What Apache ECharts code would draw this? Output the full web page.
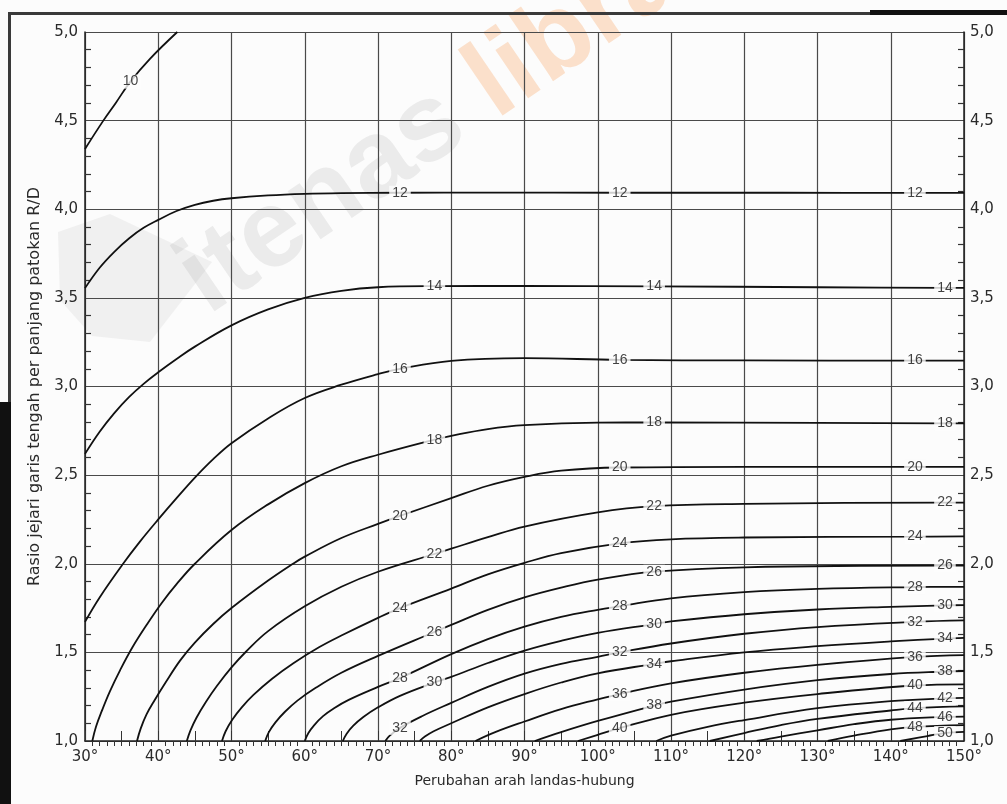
<!DOCTYPE html>
<html>
<head>
<meta charset="utf-8">
<script src="https://cdn.jsdelivr.net/npm/echarts@6/dist/echarts.min.js"></script>
<style>
  html, body { margin: 0; padding: 0; background: #fcfcfc; }
  #chart { width: 1007px; height: 804px; }
</style>
</head>
<body>
<div id="chart"></div>
<script>
// Rasio R/D terhadap perubahan arah landas-hubung, satu kurva per nilai parameter
const c10 = [[30,4.34],[32.5,4.5],[34.2,4.6],[36.2,4.72],[38.9,4.85],[42.6,5.0]];
const c12 = [[30,3.555],[32,3.67],[34,3.76],[36,3.835],[38,3.895],[40,3.94],[42.5,3.99],[45,4.025],[47.5,4.048],[50,4.062],[55,4.078],[60,4.087],[65,4.091],[73,4.093],[85,4.094],[103,4.093],[125,4.093],[143.3,4.092],[150,4.092]];
const c14 = [[30,2.62],[32,2.745],[34,2.85],[36,2.94],[38,3.015],[40,3.08],[42.5,3.155],[45,3.225],[50,3.345],[55,3.435],[60,3.5],[65,3.54],[70,3.56],[77.7,3.566],[90,3.567],[107.7,3.565],[130,3.56],[147.4,3.556],[150,3.556]];
const c16 = [[30,1.672],[32,1.81],[35.2,2.0],[37.5,2.125],[40,2.25],[42.5,2.37],[45.1,2.49],[47.5,2.59],[50,2.68],[55,2.82],[60,2.935],[65,3.01],[70,3.07],[73,3.1],[80,3.145],[90,3.16],[103,3.15],[120,3.147],[143.3,3.146],[150,3.146]];
const c18 = [[31,1.0],[31.5,1.08],[32.3,1.17],[33.4,1.28],[34.8,1.4],[36.5,1.53],[38.5,1.66],[40.5,1.78],[42.5,1.885],[45,2.0],[50,2.19],[55,2.335],[60,2.455],[65,2.55],[70,2.615],[77.7,2.7],[80,2.722],[85,2.76],[90,2.782],[100,2.796],[107.7,2.797],[130,2.795],[147.4,2.792],[150,2.792]];
const c20 = [[37.1,1.0],[37.6,1.07],[38.4,1.15],[39.5,1.23],[41,1.33],[43,1.455],[45,1.555],[47.5,1.66],[50,1.75],[55,1.905],[58.4,2.0],[60,2.04],[65,2.145],[70,2.225],[73,2.27],[80,2.37],[85,2.44],[90,2.49],[95,2.525],[103,2.543],[120,2.547],[143.3,2.547],[150,2.547]];
const c22 = [[43.9,1.0],[44.4,1.06],[45.2,1.13],[46.5,1.22],[48,1.31],[50,1.415],[52,1.505],[55,1.62],[60,1.76],[65,1.87],[70,1.955],[77.7,2.055],[80,2.085],[85,2.15],[90,2.21],[100,2.29],[107.7,2.325],[120,2.338],[147.4,2.345],[150,2.345]];
const c24 = [[48.7,1.0],[49.2,1.055],[50.1,1.12],[51.4,1.19],[53,1.26],[55.5,1.35],[58.5,1.44],[62,1.53],[65,1.595],[70,1.695],[73,1.75],[80,1.86],[85,1.94],[90,2.005],[95,2.06],[103,2.115],[110,2.138],[120,2.148],[143.3,2.153],[150,2.155]];
const c26 = [[54.6,1.0],[55.1,1.05],[56,1.105],[57.3,1.165],[59,1.228],[61.5,1.3],[65,1.385],[70,1.48],[77.7,1.615],[80,1.655],[85,1.74],[90,1.81],[95,1.865],[100,1.91],[107.7,1.955],[120,1.98],[147.4,1.99],[150,1.99]];
const c28 = [[60,1.0],[60.5,1.045],[61.3,1.09],[62.5,1.14],[64,1.185],[66,1.232],[70,1.305],[73,1.355],[80,1.49],[85,1.575],[90,1.645],[95,1.7],[100,1.74],[103,1.76],[110,1.805],[120,1.84],[130,1.858],[143.3,1.868],[150,1.87]];
const c30 = [[65.2,1.0],[65.7,1.04],[66.6,1.085],[68,1.135],[70,1.19],[73,1.255],[77.7,1.33],[80,1.362],[85,1.44],[90,1.51],[95,1.565],[100,1.61],[107.7,1.66],[110,1.675],[120,1.715],[130,1.742],[140,1.757],[147.4,1.765],[150,1.767]];
const c32 = [[71,1.0],[71.6,1.03],[73,1.074],[76,1.14],[80,1.215],[85,1.305],[90,1.38],[95,1.435],[100,1.475],[103,1.5],[110,1.55],[120,1.605],[130,1.643],[143.3,1.672],[150,1.68]];
const c34 = [[75.7,1.0],[76.4,1.025],[77.6,1.055],[80,1.1],[85,1.19],[90,1.265],[95,1.33],[100,1.382],[107.7,1.435],[110,1.45],[120,1.5],[130,1.535],[140,1.562],[147.4,1.578],[150,1.582]];
const c36 = [[83.3,1.0],[86,1.05],[90,1.11],[95,1.18],[100,1.235],[103,1.265],[110,1.325],[120,1.385],[130,1.43],[143.3,1.475],[150,1.485]];
const c38 = [[91.4,1.0],[95,1.05],[100,1.113],[107.7,1.2],[110,1.222],[120,1.29],[130,1.343],[140,1.378],[147.4,1.392],[150,1.395]];
const c40 = [[97.3,1.0],[100,1.035],[103,1.072],[110,1.148],[120,1.216],[130,1.265],[143.3,1.313],[150,1.32]];
const c42 = [[108,1.0],[110,1.03],[115,1.08],[120,1.118],[130,1.185],[140,1.225],[147.4,1.24],[150,1.243]];
const c44 = [[115.3,1.0],[120,1.045],[125,1.09],[130,1.125],[140,1.172],[143.3,1.185],[150,1.195]];
const c46 = [[121.7,1.0],[125,1.025],[130,1.06],[135,1.095],[140,1.12],[147.4,1.136],[150,1.138]];
const c48 = [[131.4,1.0],[135,1.03],[140,1.066],[143.3,1.08],[150,1.09]];
const c50 = [[141.3,1.0],[145,1.028],[147.4,1.045],[150,1.052]];

const curveNames = ['10','12','14','16','18','20','22','24','26','28','30','32','34','36','38','40','42','44','46','48','50'];
const curveData  = [c10,c12,c14,c16,c18,c20,c22,c24,c26,c28,c30,c32,c34,c36,c38,c40,c42,c44,c46,c48,c50];

// angles (x) at which each curve carries its number
const labelAt = {
  '10': [36.2],
  '12': [73, 103, 143.3], '14': [77.7, 107.7, 147.4],
  '16': [73, 103, 143.3], '18': [77.7, 107.7, 147.4],
  '20': [73, 103, 143.3], '22': [77.7, 107.7, 147.4],
  '24': [73, 103, 143.3], '26': [77.7, 107.7, 147.4],
  '28': [73, 103, 143.3], '30': [77.7, 107.7, 147.4],
  '32': [73, 103, 143.3], '34': [107.7, 147.4],
  '36': [103, 143.3], '38': [107.7, 147.4],
  '40': [103, 143.3], '42': [147.4],
  '44': [143.3], '46': [147.4],
  '48': [143.3], '50': [147.4]
};

const xTicks = [30,40,50,60,70,80,90,100,110,120,130,140,150];
const xTickLabels = ['30°','40°','50°','60°','70°','80°','90°','100°','110°','120°','130°','140°','150°'];
const yTicks = [1,1.5,2,2.5,3,3.5,4,4.5,5];
const yTickLabels = ['1,0','1,5','2,0','2,5','3,0','3,5','4,0','4,5','5,0'];

const xTitle = 'Perubahan arah landas-hubung';
const yTitle = 'Rasio jejari garis tengah per panjang patokan R/D';

const BG = '#fcfcfc';
const GRID_COLOR = '#4a4a4a';
const TEXT_COLOR = '#2a2a2a';
const AXIS_FONT = 'DejaVu Sans, sans-serif';
const MARK_FONT = 'bold 110px "Liberation Sans", Arial, sans-serif';

function tickText(ticks, labels, v) {
  for (let i = 0; i < ticks.length; i++) {
    if (Math.abs(ticks[i] - v) < 1e-6) return labels[i];
  }
  return '';
}

const lineSeries = curveData.map((d, i) => ({
  type: 'line',
  name: curveNames[i],
  data: d,
  smooth: 0.4,
  symbol: 'none',
  clip: true,
  silent: true,
  z: 3,
  lineStyle: { color: '#111', width: 1.8 }
}));

const labelPoints = [];
curveData.forEach((d, i) => {
  const name = curveNames[i];
  (labelAt[name] || []).forEach(ax => {
    const p = d.find(q => Math.abs(q[0] - ax) < 1e-9);
    if (p) labelPoints.push({ value: p, name: name });
  });
});

const labelSeries = {
  type: 'scatter',
  data: labelPoints,
  symbol: 'circle',
  symbolSize: 1,
  silent: true,
  z: 6,
  itemStyle: { color: 'rgba(0,0,0,0)' },
  label: {
    show: true,
    position: 'inside',
    formatter: p => p.name,
    fontFamily: 'Liberation Sans, Arial, sans-serif',
    fontSize: 14,
    color: '#111',
    backgroundColor: BG,
    padding: [0, 3]
  }
};

const chart = echarts.init(document.getElementById('chart'), null, { renderer: 'canvas' });

chart.setOption({
  backgroundColor: BG,
  animation: false,
  grid: { left: 85, right: 43, top: 32, bottom: 63, containLabel: false },
  xAxis: [
    {
      type: 'value', min: 30, max: 150, interval: 10,
      name: xTitle, nameLocation: 'middle', nameGap: 33,
      nameTextStyle: { fontFamily: AXIS_FONT, fontSize: 14, color: TEXT_COLOR },
      axisLine: { show: true, lineStyle: { color: '#222', width: 1.5 } },
      axisTick: { show: false },
      minorTick: { show: true, splitNumber: 10, length: 5, lineStyle: { color: '#333', width: 1 } },
      splitLine: { show: true, lineStyle: { color: GRID_COLOR, width: 1.2 } },
      axisLabel: {
        margin: 9, fontFamily: AXIS_FONT, fontSize: 15, color: TEXT_COLOR,
        formatter: v => tickText(xTicks, xTickLabels, v)
      }
    },
    {
      type: 'value', min: 30, max: 150, interval: 5, position: 'bottom',
      axisLine: { show: false },
      axisTick: { show: true, inside: true, length: 10, lineStyle: { color: '#333', width: 1 } },
      axisLabel: { show: false },
      splitLine: { show: false }
    }
  ],
  yAxis: [
    {
      type: 'value', min: 1, max: 5, interval: 0.5, position: 'left',
      name: yTitle, nameLocation: 'middle', nameGap: 36,
      nameTextStyle: { fontFamily: AXIS_FONT, fontSize: 16, color: TEXT_COLOR },
      axisLine: { show: true, lineStyle: { color: '#222', width: 1.5 } },
      axisTick: { show: false, inside: true },
      minorTick: { show: true, splitNumber: 5, length: 6, lineStyle: { color: '#333', width: 1.2 } },
      splitLine: { show: true, lineStyle: { color: GRID_COLOR, width: 1.2 } },
      axisLabel: {
        margin: 7, fontFamily: AXIS_FONT, fontSize: 15, color: TEXT_COLOR,
        formatter: v => tickText(yTicks, yTickLabels, v)
      }
    },
    {
      type: 'value', min: 1, max: 5, interval: 0.5, position: 'right',
      axisLine: { show: true, lineStyle: { color: '#222', width: 1.5 } },
      axisTick: { show: false, inside: true },
      minorTick: { show: true, splitNumber: 5, length: 6, lineStyle: { color: '#333', width: 1.2 } },
      splitLine: { show: false },
      axisLabel: {
        margin: 6, fontFamily: AXIS_FONT, fontSize: 15, color: TEXT_COLOR,
        formatter: v => tickText(yTicks, yTickLabels, v)
      }
    }
  ],
  series: lineSeries.concat([labelSeries]),
  graphic: [
    // faint library mark: emblem and lettering across the sheet
    {
      type: 'polygon', z: 0, silent: true,
      shape: { points: [[58, 232], [110, 214], [212, 262], [150, 342], [92, 336], [60, 300]] },
      style: { fill: 'rgba(140,140,140,0.10)' }
    },
    {
      type: 'text', x: 222, y: 336, rotation: Math.PI * 0.19, z: 0, silent: true,
      style: {
        text: '{g|itenas} {o|library}',
        font: MARK_FONT,
        textVerticalAlign: 'bottom',
        rich: {
          g: { fill: 'rgba(140,140,140,0.15)', font: MARK_FONT },
          o: { fill: 'rgba(250,140,50,0.24)', font: MARK_FONT }
        }
      }
    },
    // sheet frame
    { type: 'rect', shape: { x: 8, y: 12, width: 1000, height: 3 }, style: { fill: '#3a3a3a' }, silent: true },
    { type: 'rect', shape: { x: 870, y: 10, width: 137, height: 5 }, style: { fill: '#111' }, silent: true },
    { type: 'rect', shape: { x: 8, y: 12, width: 3, height: 400 }, style: { fill: '#3a3a3a' }, silent: true },
    { type: 'rect', shape: { x: 0, y: 402, width: 11, height: 402 }, style: { fill: '#111' }, silent: true }
  ]
});
</script>
</body>
</html>
